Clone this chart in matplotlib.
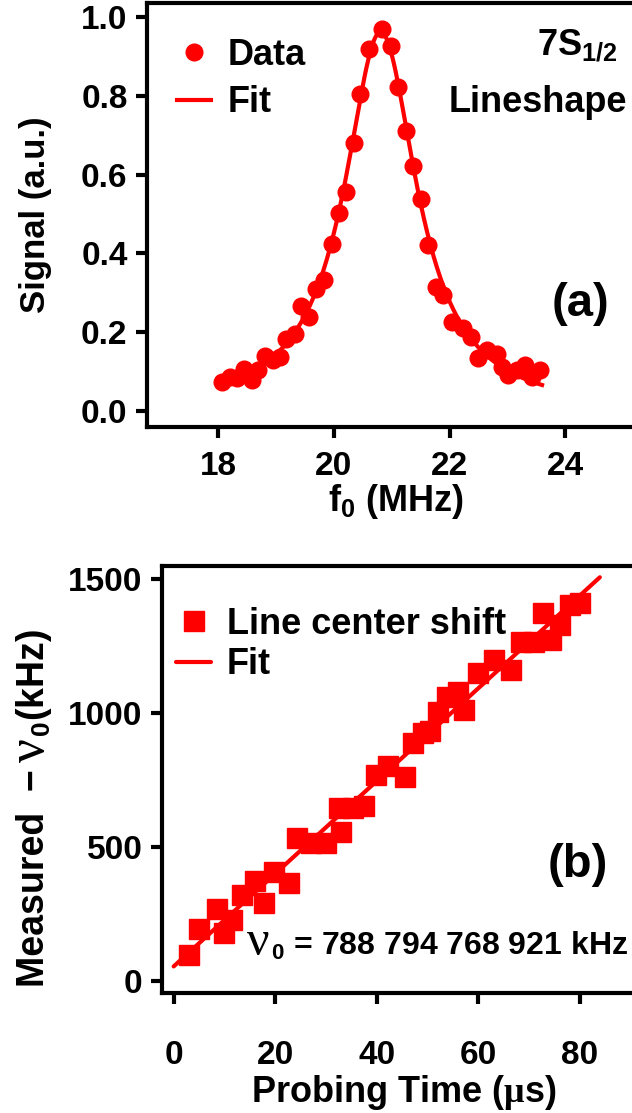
import numpy as np
import matplotlib
matplotlib.use('Agg')
import matplotlib.pyplot as plt
from matplotlib.offsetbox import TextArea, HPacker, AnchoredOffsetbox

plt.rcParams['font.family'] = ['Liberation Sans', 'DejaVu Sans']
plt.rcParams['font.weight'] = 'bold'
plt.rcParams['mathtext.fontset'] = 'custom'
plt.rcParams['mathtext.rm'] = 'Liberation Sans:bold'
plt.rcParams['mathtext.bf'] = 'Liberation Sans:bold'
plt.rcParams['mathtext.cal'] = 'Liberation Serif'

RED = '#ff0000'

# (a) 7S1/2 lineshape
freq = [18.06, 18.20, 18.33, 18.45, 18.58, 18.69, 18.81, 18.95, 19.07, 19.18,
        19.33, 19.44, 19.57, 19.70, 19.83, 19.96, 20.09, 20.21, 20.35, 20.46,
        20.61, 20.84, 20.98, 21.11, 21.25, 21.37, 21.50, 21.63, 21.77, 21.89,
        22.04, 22.24, 22.38, 22.50, 22.64, 22.82, 22.90, 23.02, 23.16, 23.31,
        23.42, 23.57]
signal = [0.074, 0.087, 0.083, 0.108, 0.079, 0.104, 0.140, 0.129, 0.138, 0.184,
          0.197, 0.266, 0.239, 0.311, 0.332, 0.423, 0.502, 0.555, 0.681, 0.805,
          0.918, 0.969, 0.927, 0.823, 0.711, 0.623, 0.538, 0.421, 0.314, 0.294,
          0.227, 0.210, 0.189, 0.134, 0.155, 0.146, 0.111, 0.091, 0.104, 0.117,
          0.087, 0.104]

# (b) line center shift vs probing time
probe_t = [3.0, 4.9, 8.6, 9.9, 11.5, 13.5, 16.1, 17.8, 19.8, 22.7, 24.4, 27.0,
           30.0, 32.6, 32.9, 35.3, 37.6, 39.9, 42.2, 45.5, 47.2, 49.1, 50.5,
           52.1, 53.8, 56.0, 57.3, 60.0, 63.2, 66.5, 68.5, 71.1, 72.8, 74.4,
           76.1, 78.1, 80.0]
shift = [100, 195, 270, 180, 230, 323, 373, 292, 410, 367, 535, 516, 516, 647,
         559, 647, 653, 771, 802, 764, 890, 926, 935, 1004, 1060, 1081, 1013,
         1150, 1199, 1162, 1268, 1268, 1373, 1274, 1330, 1405, 1411]

freq = np.array(freq)
signal = np.array(signal)
probe_t = np.array(probe_t)
shift = np.array(shift)

# lorentzian fit: 1/y is quadratic in f
lor = np.polyfit(freq, 1.0 / signal, 2, w=signal ** 2)
f_fit = np.linspace(18.0, 23.6, 300)
s_fit = 1.0 / np.polyval(lor, f_fit)

lin = np.polyfit(probe_t, shift, 1)
t_fit = np.array([0.0, 84.0])
v_fit = np.polyval(lin, t_fit)

fig = plt.figure(figsize=(6.32, 11.13), dpi=100)
W, H = 632.0, 1113.0
NU = dict(family='Liberation Serif', fontweight='normal')

def style(ax, xpad):
    for side in ['left', 'bottom', 'top']:
        ax.spines[side].set_linewidth(3)
    ax.spines['right'].set_visible(False)
    ax.tick_params(direction='out', length=8, width=3, labelsize=24, pad=6)
    ax.tick_params(axis='x', pad=xpad)
    for lab in ax.get_xticklabels() + ax.get_yticklabels():
        lab.set_fontweight('bold')

# ---- panel (a)
ax1 = fig.add_axes([147 / W, 1 - 427 / H, (645 - 147) / W, (427 - 3) / H])
ax1.plot(f_fit, s_fit, color=RED, lw=3, label='Fit', zorder=2)
ax1.plot(freq, signal, 'o', color=RED, ms=12, label='Data', zorder=3)
ax1.set_xlim(16.77, 25.38)
ax1.set_ylim(-0.04, 1.035)
ax1.set_xticks([18, 20, 22, 24])
ax1.set_yticks([0.0, 0.2, 0.4, 0.6, 0.8, 1.0])
ax1.set_yticklabels(['0.0', '0.2', '0.4', '0.6', '0.8', '1.0'])
style(ax1, 9)
ax1.set_xlabel('f$_0$ (MHz)', fontsize=26, fontweight='bold', labelpad=0)
ax1.set_ylabel('Signal (a.u.)', fontsize=25, fontweight='bold')
ax1.yaxis.set_label_coords(-0.19, 0.5)
h, l = ax1.get_legend_handles_labels()
ax1.legend(h[::-1], l[::-1], loc='upper left', bbox_to_anchor=(0.06, 0.918),
           frameon=False, fontsize=26, handlelength=0.95, handletextpad=0.45,
           labelspacing=0.35, borderpad=0, borderaxespad=0)
ax1.text(0.865, 0.90, '7S$_{1/2}$', transform=ax1.transAxes, fontsize=26,
         fontweight='bold', ha='center', va='center')
ax1.text(0.785, 0.765, 'Lineshape', transform=ax1.transAxes, fontsize=26,
         fontweight='bold', ha='center', va='center')
ax1.text(0.87, 0.29, '(a)', transform=ax1.transAxes, fontsize=34,
         fontweight='bold', ha='center', va='center')

# ---- panel (b)
ax2 = fig.add_axes([162 / W, 1 - 993 / H, (645 - 162) / W, (993 - 566) / H])
ax2.plot(t_fit, v_fit, color=RED, lw=3, label='Fit', zorder=2,
         solid_capstyle='round')
ax2.plot(probe_t, shift, 's', color=RED, ms=14, label='Line center shift',
         zorder=3)
ax2.set_xlim(-2.3, 92.9)
ax2.set_ylim(-43, 1550)
ax2.set_xticks([0, 20, 40, 60, 80])
ax2.set_yticks([0, 500, 1000, 1500])
style(ax2, 26)
ax2.set_xlabel(r'Probing Time ($\mathcal{\mu}$s)', fontsize=26,
               fontweight='bold', labelpad=1)

# y label built from pieces so the nu can be larger and serif
x0 = -0.245
rot = dict(rotation=90, rotation_mode='anchor', ha='left', va='baseline',
           annotation_clip=False)
y1 = ax2.annotate('Measured  \u2212', xy=(x0, 0.015), xycoords='axes fraction',
                  fontsize=27, fontweight='bold', **rot)
y2 = ax2.annotate('\u03bd', xy=(x0, 1), xycoords=(ax2.transAxes, y1),
                  xytext=(0, 5), textcoords='offset points', fontsize=38,
                  **NU, **rot)
ax2.annotate('$_0$(kHz)', xy=(x0, 1), xycoords=(ax2.transAxes, y2),
             xytext=(0, 0.5), textcoords='offset points', fontsize=27,
             fontweight='bold', **rot)

h, l = ax2.get_legend_handles_labels()
ax2.legend(h[::-1], l[::-1], loc='upper left', bbox_to_anchor=(0.03, 0.904),
           frameon=False, fontsize=26, handlelength=0.95, handletextpad=0.45,
           labelspacing=0.15, borderpad=0, borderaxespad=0)
ax2.text(0.86, 0.30, '(b)', transform=ax2.transAxes, fontsize=34,
         fontweight='bold', ha='center', va='center')

nu_box = HPacker(children=[TextArea('\u03bd', textprops=dict(fontsize=36, **NU)),
                           TextArea('$_0$ = 788 794 768 921 kHz',
                                    textprops=dict(fontsize=23, fontweight='bold'))],
                 align='baseline', pad=0, sep=1)
ax2.add_artist(AnchoredOffsetbox(loc='lower left', child=nu_box, frameon=False,
                                 bbox_to_anchor=(0.176, 0.063),
                                 bbox_transform=ax2.transAxes,
                                 pad=0, borderpad=0))

fig.savefig('out.png', dpi=100)
